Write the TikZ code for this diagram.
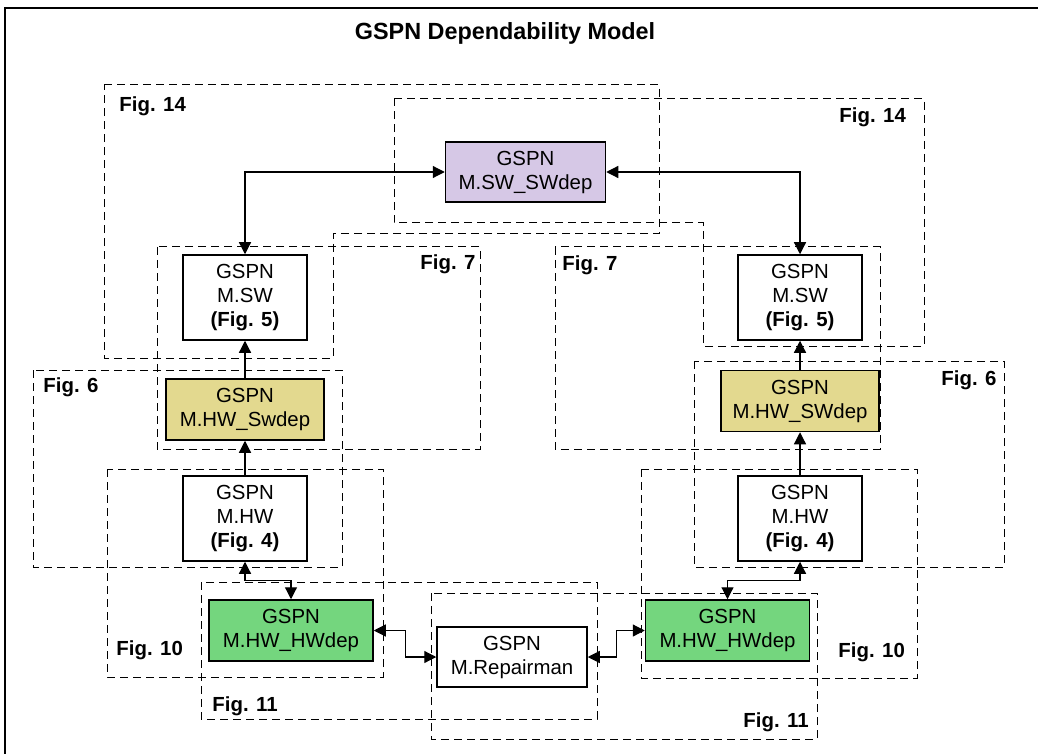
\documentclass[tikz,border=0pt]{standalone}
\usepackage{fontspec}
\setmainfont{Liberation Sans}
\usetikzlibrary{arrows.meta}
\definecolor{swcol}{RGB}{214,200,230}
\definecolor{hwswcol}{RGB}{227,217,143}
\definecolor{hwhwcol}{RGB}{116,214,126}
\begin{document}
\begin{tikzpicture}[x=0.5pt, y=-0.5pt,
  net/.style={draw, line width=0.75pt, align=center, inner sep=0pt, font=\fontsize{10.2}{12}\selectfont},
  big/.style={net, minimum width=62pt, minimum height=42.5pt},
  wide/.style={net, minimum width=80pt, minimum height=30.5pt},
  region/.style={line width=0.5pt, dash pattern=on 4pt off 2.5pt},
  figlab/.style={anchor=west, inner sep=0pt, font=\fontsize{10.2}{12}\selectfont\bfseries},
  link/.style={line width=0.6pt, {Triangle[length=6pt,width=6pt]}-{Triangle[length=6pt,width=6pt]}},
  up/.style={line width=0.6pt, -{Triangle[length=6pt,width=6pt]}}]
\useasboundingbox (0,0) rectangle (1038,754);
\draw[line width=1pt] (5,754) -- (5,8) -- (1038,8);
\node[font=\fontsize{11.7}{14}\selectfont\bfseries] (title) at (505,33) {GSPN Dependability Model};
% dashed regions
\draw[region] (104,85) -- (659,85) -- (659,234) -- (333,234) -- (333,358) -- (104,358) -- cycle;
\draw[region] (394,99) -- (924,99) -- (924,346) -- (703,346) -- (703,223) -- (394,223) -- cycle;
\draw[region] (157,247) rectangle (480,449);
\draw[region] (555,247) rectangle (880,449);
\draw[region] (33,370) rectangle (342,567);
\draw[region] (694,361) rectangle (1004,567);
\draw[region] (107,469) rectangle (383,677);
\draw[region] (641,469) rectangle (917,678);
\draw[region] (201,582) rectangle (597,719);
\draw[region] (431,593) rectangle (817,739);
\node[figlab] (f14a) at (119,106) {Fig. 14};
\node[figlab] (f14b) at (839,117) {Fig. 14};
\node[figlab] (f7a) at (420,264) {Fig. 7};
\node[figlab] (f7b) at (562,265) {Fig. 7};
\node[figlab] (f6a) at (43,387) {Fig. 6};
\node[figlab] (f6b) at (941,380) {Fig. 6};
\node[figlab] (f10a) at (116,650) {Fig. 10};
\node[figlab] (f10b) at (838,652) {Fig. 10};
\node[figlab] (f11a) at (212,706) {Fig. 11};
\node[figlab] (f11b) at (743,722) {Fig. 11};
% GSPN models
\node[wide, fill=swcol, minimum height=30pt] (swdep) at (525.5,172) {GSPN\\M.SW\_SWdep};
\node[big, fill=white] (swL) at (245,297.5) {GSPN\\M.SW\\\textbf{(Fig. 5)}};
\node[big, fill=white] (swR) at (800,297.5) {GSPN\\M.SW\\\textbf{(Fig. 5)}};
\node[wide, fill=hwswcol, minimum width=79pt] (hwswL) at (245,409.5) {GSPN\\M.HW\_Swdep};
\node[wide, fill=hwswcol, minimum width=79pt] (hwswR) at (800,401) {GSPN\\M.HW\_SWdep};
\node[big, fill=white] (hwL) at (245,518.5) {GSPN\\M.HW\\\textbf{(Fig. 4)}};
\node[big, fill=white] (hwR) at (800,518.5) {GSPN\\M.HW\\\textbf{(Fig. 4)}};
\node[wide, fill=hwhwcol, minimum width=82pt] (hwhwL) at (291,630.5) {GSPN\\M.HW\_HWdep};
\node[wide, fill=hwhwcol, minimum width=82pt] (hwhwR) at (727.5,630.5) {GSPN\\M.HW\_HWdep};
\node[wide, fill=white, minimum width=75pt, minimum height=30pt] (rep) at (512,657) {GSPN\\M.Repairman};
% links
\draw[link] (swL.north) |- (swdep.west);
\draw[link] (swdep.east) -| (swR.north);
\draw[up] (hwswL.north) -- (swL.south);
\draw[up] (hwL.north) -- (hwswL.south);
\draw[up] (hwswR.north) -- (swR.south);
\draw[up] (hwR.north) -- (hwswR.south);
\draw[link] (hwL.south) -- ++(0,19) -| (hwhwL.north);
\draw[link] (hwR.south) -- ++(0,19) -| (hwhwR.north);
\draw[link] (hwhwL.east) -- ++(32,0) |- (rep.west);
\draw[link] (rep.east) -- ++(29,0) |- (hwhwR.west);
\end{tikzpicture}
\end{document}
